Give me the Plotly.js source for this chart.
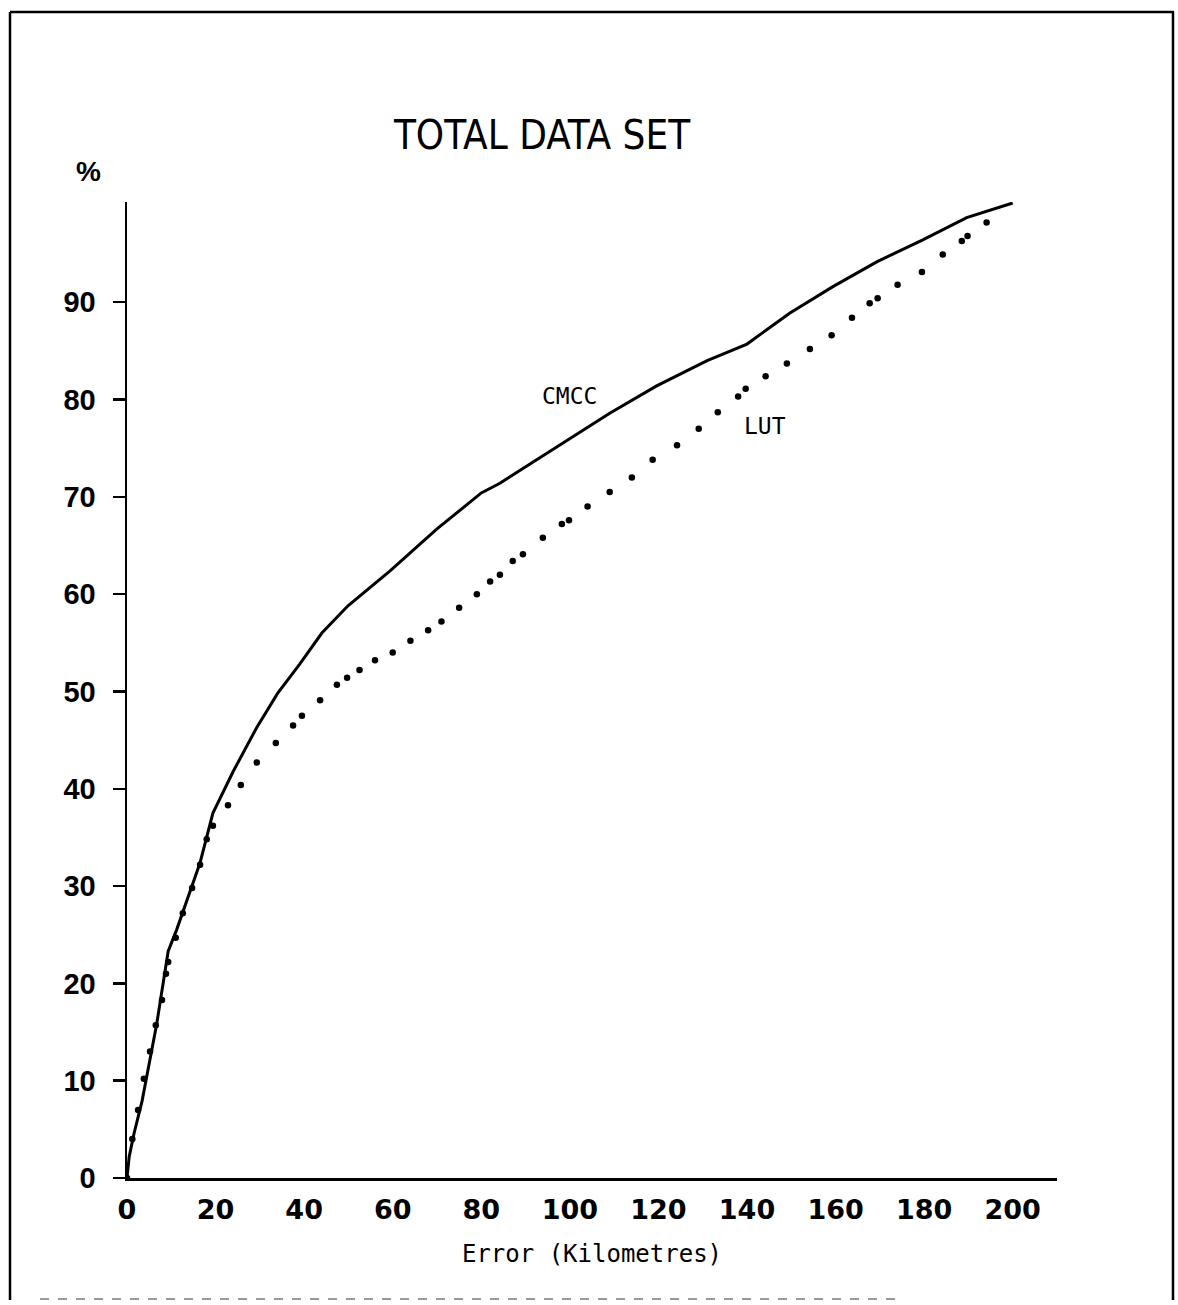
<!DOCTYPE html>
<html>
<head>
<meta charset="utf-8">
<script src="https://cdn.plot.ly/plotly-3.0.1.min.js"></script>
<style>html,body{margin:0;padding:0;background:#fff;}#chart{width:1178px;height:1305px;}</style>
</head>
<body>
<div id="chart"></div>
<script>
// CMCC (solid curve)
const cmccX = [0, 0.5, 1.6, 3.4, 6.7, 9.3, 11.2, 13.5, 16.5, 19.4, 24, 29.3, 34, 39, 44, 49.9, 59.4, 70, 80, 84.2, 100, 109, 119.6, 131, 140, 149.7, 159.4, 169.5, 179.7, 189.6, 200];
const cmccY = [0, 2.2, 4.6, 7.9, 15.8, 23.3, 25.5, 28.6, 32.4, 37.5, 41.8, 46.3, 49.8, 52.8, 56, 58.8, 62.4, 66.7, 70.4, 71.4, 76, 78.6, 81.4, 84, 85.7, 88.9, 91.6, 94.2, 96.4, 98.7, 100.2];

// LUT (dotted curve)
const lutX = [0, 1.2, 2.5, 3.8, 5.2, 6.5, 7.9, 8.8, 9.3, 11, 12.6, 14.7, 16.5, 18, 19.4, 22.8, 25.7, 29.3, 33.6, 37.5, 39.5, 43.6, 47.4, 49.7, 52.5, 56, 60, 64, 68, 71, 75, 79, 82, 84.2, 87.1, 89.4, 93.9, 98.2, 99.8, 104, 109, 114, 118.7, 124.2, 129.1, 133.4, 138, 139.7, 144.2, 149, 154.2, 159.1, 163.7, 167.7, 169.5, 174, 179.5, 184.2, 188.5, 189.8, 194.1];
const lutY = [0, 4, 7, 10.2, 13, 15.7, 18.3, 21, 22.2, 24.7, 27.2, 29.8, 32.2, 34.8, 36.2, 38.3, 40.4, 42.7, 44.7, 46.5, 47.5, 49.1, 50.7, 51.4, 52.2, 53.2, 54, 55.2, 56.3, 57.2, 58.6, 60, 61.3, 62, 63.4, 64.1, 65.8, 67.2, 67.6, 69, 70.5, 72, 73.8, 75.3, 77, 78.7, 80.3, 81.1, 82.4, 83.7, 85.2, 86.6, 88.4, 89.9, 90.4, 91.8, 93.1, 94.9, 96.3, 96.8, 98.2];

const xTicks = [0, 20, 40, 60, 80, 100, 120, 140, 160, 180, 200];
const yTicks = [0, 10, 20, 30, 40, 50, 60, 70, 80, 90];

const traces = [
  {x: cmccX, y: cmccY, mode: 'lines', line: {color: '#000', width: 3}, name: 'CMCC', hoverinfo: 'skip'},
  {x: lutX, y: lutY, mode: 'markers', marker: {color: '#000', size: 6.5, symbol: 'circle'}, name: 'LUT', hoverinfo: 'skip'}
];

// plot area in px: left 127, right 1057, top 202, bottom 1178
const L = 127, R = 1057, T = 202, B = 1178, W = 1178, H = 1305;
const px = v => (v - L) / (R - L);
const py = v => (B - v) / (B - T);

const layout = {
  width: W, height: H,
  margin: {l: L, r: W - R, t: T, b: H - B, pad: 0},
  paper_bgcolor: '#fff', plot_bgcolor: '#fff',
  showlegend: false,
  title: {text: 'TOTAL DATA SET', x: 542 / W, xanchor: 'center', y: 1 - 135 / H, yanchor: 'middle',
          font: {family: 'Liberation Sans Narrow, DejaVu Sans Condensed, Liberation Sans, sans-serif', size: 40, color: '#000'}},
  xaxis: {
    range: [0, 210], showgrid: false, zeroline: false, showline: true, linecolor: '#000', linewidth: 2.5,
    ticks: '', tickvals: xTicks, ticktext: xTicks.map(String), ticklabelstandoff: 6,
    tickfont: {family: 'DejaVu Sans, sans-serif', size: 27, color: '#000', weight: 'bold'},
    title: {text: 'Error (Kilometres)', standoff: 22, font: {family: 'DejaVu Sans Mono, Liberation Mono, monospace', size: 24, color: '#000'}},
    fixedrange: true
  },
  yaxis: {
    range: [0, 100.3], showgrid: false, zeroline: false, showline: true, linecolor: '#000', linewidth: 2.5,
    ticks: 'outside', ticklen: 12, tickwidth: 2.5, tickcolor: '#000',
    tickvals: yTicks, ticktext: yTicks.map(String), ticklabelstandoff: 11,
    tickfont: {family: 'Liberation Sans, sans-serif', size: 29, color: '#000', weight: 'bold'},
    fixedrange: true
  },
  annotations: [
    {xref: 'paper', yref: 'paper', x: px(88), y: py(172), text: '%', showarrow: false, xanchor: 'center', yanchor: 'middle',
     font: {family: 'Liberation Sans, sans-serif', size: 28, color: '#000', weight: 'bold'}},
    {xref: 'paper', yref: 'paper', x: px(569), y: py(396), text: 'CMCC', showarrow: false, xanchor: 'center', yanchor: 'middle',
     font: {family: 'DejaVu Sans Mono, monospace', size: 23, color: '#000'}},
    {xref: 'paper', yref: 'paper', x: px(765), y: py(426), text: 'LUT', showarrow: false, xanchor: 'center', yanchor: 'middle',
     font: {family: 'DejaVu Sans Mono, monospace', size: 23, color: '#000'}}
  ],
  shapes: [
    {type: 'line', xref: 'paper', yref: 'paper', x0: px(10), x1: px(1174), y0: py(12), y1: py(12), line: {color: '#000', width: 2.5}},
    {type: 'line', xref: 'paper', yref: 'paper', x0: px(10), x1: px(10), y0: py(12), y1: py(1300), line: {color: '#000', width: 2.5}},
    {type: 'line', xref: 'paper', yref: 'paper', x0: px(1173), x1: px(1173), y0: py(12), y1: py(1300), line: {color: '#000', width: 2.5}},
    {type: 'line', xref: 'paper', yref: 'paper', x0: px(40), x1: px(900), y0: py(1299), y1: py(1299), line: {color: '#999', width: 2, dash: 'dash'}}
  ]
};

Plotly.newPlot('chart', traces, layout, {staticPlot: true, displayModeBar: false});
</script>
</body>
</html>
